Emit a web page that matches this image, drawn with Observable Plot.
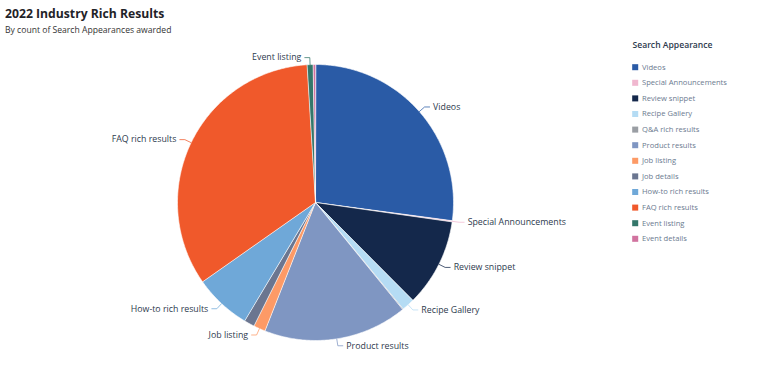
<!DOCTYPE html>
<html>
<head>
<meta charset="utf-8">
<script src="https://cdn.jsdelivr.net/npm/d3@7"></script>
<script src="https://cdn.jsdelivr.net/npm/@observablehq/plot@0.6"></script>
<style>
  html, body { margin: 0; padding: 0; background: #fff; }
  body { width: 768px; height: 380px; overflow: hidden; font-family: "Open Sans", sans-serif; }
  #head { position: relative; height: 40px; }
  #title { position: absolute; left: 5px; top: 5px; font-size: 12.2px; font-weight: 700; color: #1f2328; white-space: nowrap; }
  #subtitle { position: absolute; left: 5px; top: 24px; font-size: 8.6px; color: #333; white-space: nowrap; }
</style>
</head>
<body>
<div id="head">
  <div id="title">2022 Industry Rich Results</div>
  <div id="subtitle">By count of Search Appearances awarded</div>
</div>
<div id="chart"></div>
<script>
// ---- data ----
const names = ["Videos", "Special Announcements", "Review snippet", "Recipe Gallery", "Q&A rich results", "Product results", "Job listing", "Job details", "How-to rich results", "FAQ rich results", "Event listing", "Event details"];
const values = [975, 5, 370, 54, 3, 606, 50, 44, 240, 1215, 25, 10];
const colors = ["#2a5ba6", "#f0b7cf", "#14284b", "#b5dcf4", "#9a9ea4", "#7f96c2", "#fd9a66", "#6b7690", "#6fa8d8", "#f0592b", "#34776a", "#d1739f"];
const labeledNames = ["Videos", "Special Announcements", "Review snippet", "Recipe Gallery", "Product results", "Job listing", "How-to rich results", "FAQ rich results", "Event listing"];
const legendTitle = "Search Appearance";

// ---- layout ----
const W = 768, H = 340;
const cx = 315, cy = 162, R = 138, RL = 145;

const arcs = d3.pie().sort(null).value(d => d)(values);

const sliceRows = [];
arcs.forEach((a, i) => {
  const name = names[i];
  sliceRows.push({name, x: cx, y: cy});
  const n = Math.max(2, Math.ceil((a.endAngle - a.startAngle) / 0.01));
  for (let k = 0; k <= n; k++) {
    const t = a.startAngle + (a.endAngle - a.startAngle) * k / n;
    sliceRows.push({name, x: cx + R * Math.sin(t), y: cy - R * Math.cos(t)});
  }
});

const connRows = [];
const labelRows = [];
arcs.forEach((a, i) => {
  const name = names[i];
  if (!labeledNames.includes(name)) return;
  const m = (a.startAngle + a.endAngle) / 2;
  const right = Math.sin(m) >= 0;
  const ex = cx + R * Math.sin(m), ey = cy - R * Math.cos(m);
  const px = cx + RL * Math.sin(m), py = cy - RL * Math.cos(m);
  const hx = px + (right ? 5 : -5);
  connRows.push({name, x: ex, y: ey}, {name, x: px, y: py}, {name, x: hx, y: py});
  labelRows.push({name, x: px + (right ? 8.5 : -8.5), y: py, right});
});

const legendRows = names.map((name, i) => ({name, y: 26.7 + i * 15.6}));

const chart = Plot.plot({
  width: W,
  height: H,
  margin: 0,
  x: {domain: [0, W], range: [0, W], axis: null},
  y: {domain: [0, H], range: [0, H], axis: null},
  color: {type: "ordinal", domain: names, range: colors},
  style: {fontFamily: "Open Sans", background: "white", overflow: "visible"},
  marks: [
    Plot.line(sliceRows, {x: "x", y: "y", z: "name", fill: "name", stroke: "white", strokeWidth: 0.6, curve: "linear-closed"}),
    Plot.line(connRows, {x: "x", y: "y", z: "name", stroke: "name", strokeWidth: 1, strokeOpacity: 0.75}),
    Plot.text(labelRows.filter(d => d.right), {x: "x", y: "y", text: "name", textAnchor: "start", lineAnchor: "middle", fill: "#2e3b4e", fontSize: 8.8}),
    Plot.text(labelRows.filter(d => !d.right), {x: "x", y: "y", text: "name", textAnchor: "end", lineAnchor: "middle", fill: "#2e3b4e", fontSize: 8.8}),
    Plot.text([legendTitle], {x: () => 632, y: () => 5, text: d => d, textAnchor: "start", lineAnchor: "middle", fill: "#2e3b4e", fontSize: 8.6, fontWeight: 600}),
    Plot.dot(legendRows, {x: () => 634.7, y: "y", fill: "name", symbol: "square", r: 3.4}),
    Plot.text(legendRows, {x: () => 641.5, y: "y", text: "name", textAnchor: "start", lineAnchor: "middle", fill: "#6b7a8f", fontSize: 7.6})
  ]
});
document.getElementById("chart").appendChild(chart);
</script>
</body>
</html>
